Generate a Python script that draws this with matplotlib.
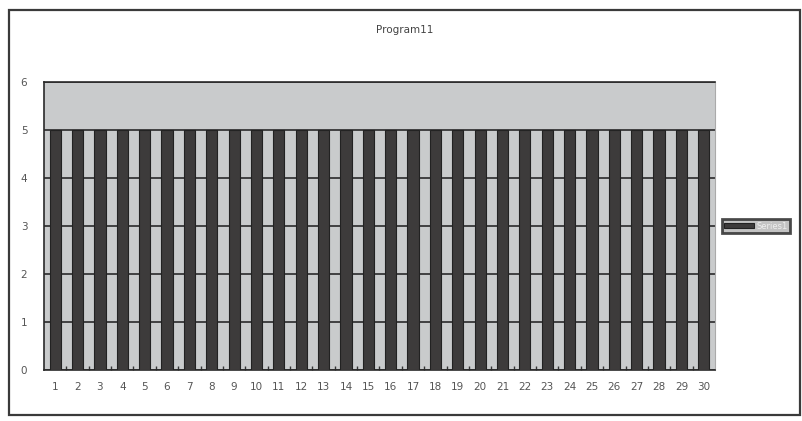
import matplotlib.pyplot as plt
import matplotlib.patches as mpatches
import numpy as np

# data
categories = [str(i) for i in range(1, 31)]
values = [5] * 30
series_name = "Series1"
title = "Program11"
y_ticks = [0, 1, 2, 3, 4, 5, 6]


def main():
    W, H = 803, 421
    fig = plt.figure(figsize=(W / 100, H / 100), dpi=100)
    fig.patch.set_facecolor('white')

    # outer chart border
    fig.patches.append(mpatches.Rectangle((9 / W, 1 - 415 / H), (800 - 9) / W, (415 - 10) / H,
                                          transform=fig.transFigure, fill=False,
                                          edgecolor='#3a3a3a', linewidth=1.6))

    left, right, top, bottom = 44, 715, 82, 370
    ax = fig.add_axes([left / W, 1 - bottom / H, (right - left) / W, (bottom - top) / H])
    ax.set_facecolor('#c9cbcc')

    x = np.arange(len(categories))
    ax.bar(x, values, width=0.5, color='#3d3b3b', edgecolor='#222222', linewidth=0.8,
           zorder=3, label=series_name)

    ax.set_xlim(-0.5, len(categories) - 0.5)
    ax.set_ylim(0, 6)
    ax.set_yticks(y_ticks)
    ax.set_xticks(x)
    ax.set_xticklabels(categories)
    ax.yaxis.grid(True, color='#2a2a2a', linewidth=1.2, zorder=1)
    ax.set_axisbelow(True)
    ax.tick_params(axis='both', length=0, labelsize=7.5, labelcolor='#555555')
    ax.tick_params(axis='x', pad=9)
    ax.tick_params(axis='y', pad=12)
    ax.set_xticks(np.arange(0.5, len(categories) - 1, 1), minor=True)
    ax.tick_params(axis='x', which='minor', direction='in', length=3, color='#333333', width=1)

    for side in ['left', 'bottom', 'top']:
        ax.spines[side].set_color('#2a2a2a')
        ax.spines[side].set_linewidth(1.2)
    ax.spines['right'].set_color('#aaaaaa')
    ax.spines['right'].set_linewidth(0.8)

    fig.text(405 / W, 1 - 30 / H, title, ha='center', va='center', fontsize=7.5, color='#444444')

    leg = ax.legend(loc='center left', bbox_to_anchor=(1.006, 0.5), fontsize=6,
                    frameon=True, fancybox=False, handlelength=3.6, handleheight=0.5,
                    handletextpad=0.4, borderpad=0.25, borderaxespad=0.3,
                    labelcolor='#eeeeee')
    leg.get_frame().set_facecolor('#b5b5b5')
    leg.get_frame().set_edgecolor('#222222')
    leg.get_frame().set_linewidth(2)

    plt.savefig('out.png', dpi=100)


if __name__ == '__main__':
    main()
